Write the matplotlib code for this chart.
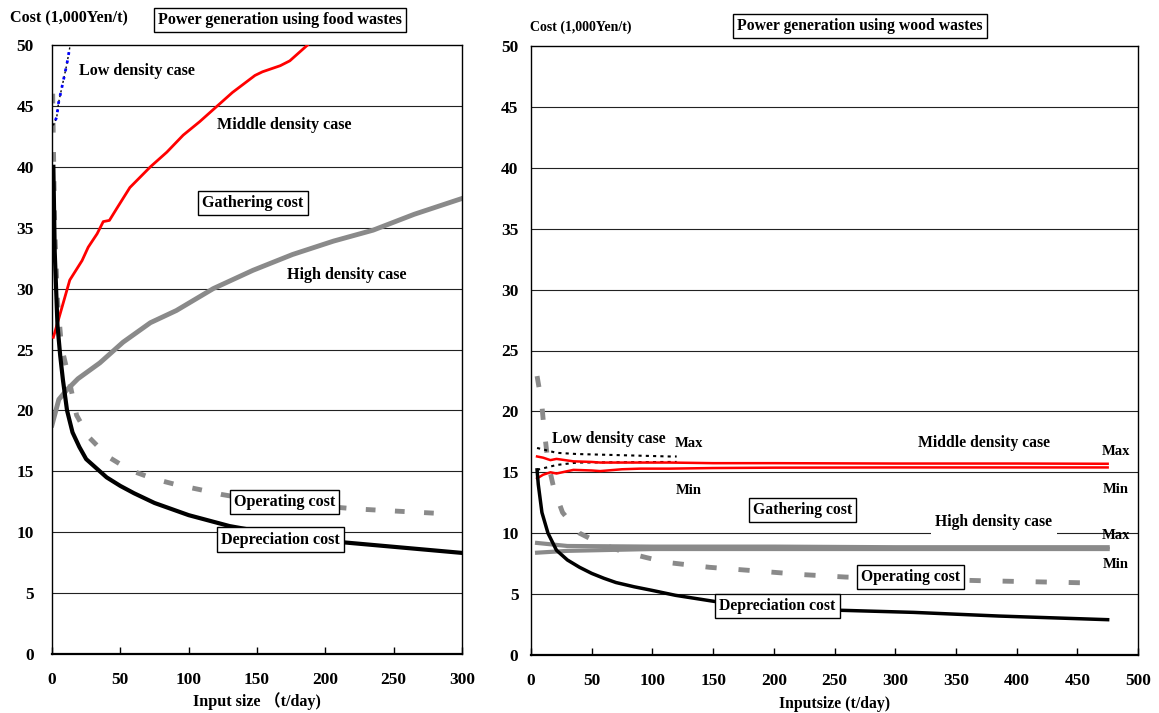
# Cost curves for power generation from food wastes and wood wastes
import numpy as np
import matplotlib.pyplot as plt

plt.rcParams['font.family'] = ['Liberation Serif', 'Noto Sans CJK JP', 'DejaVu Sans']
plt.rcParams['font.weight'] = 'bold'

# ---- food wastes (left) ----
food_dep_x = [1, 2, 4, 6, 8, 11, 15, 20, 25, 30, 35, 40, 50, 60, 75, 100, 130, 160, 200, 250, 300]
food_dep_y = [40, 33, 27, 24.5, 22.5, 20, 18.2, 17, 16, 15.5, 15, 14.5, 13.8, 13.2, 12.4, 11.4, 10.5, 9.9, 9.3, 8.8, 8.3]

food_op_x = [0.5, 1, 2, 4, 7, 11, 18, 27, 41, 57, 74, 91, 108, 124, 150, 180, 224, 257, 290]
food_op_y = [46, 42, 35, 29, 25.2, 23.3, 19.6, 17.8, 16.2, 15.1, 14.4, 13.9, 13.5, 13.1, 12.6, 12.3, 11.9, 11.7, 11.5]

food_low_x = [1, 3.5, 4.7, 7, 11, 13]
food_low_y = [43.4, 44.1, 45.2, 46.4, 48.5, 49.8]

food_mid_x = [1, 4.6, 13, 22, 26.5, 33, 37.5, 42, 47.5, 57, 72, 84, 96, 108, 118, 132, 148.5, 154, 167, 174, 181, 187]
food_mid_y = [26, 27.4, 30.7, 32.3, 33.4, 34.5, 35.5, 35.6, 36.6, 38.3, 40, 41.2, 42.6, 43.7, 44.7, 46.1, 47.5, 47.8, 48.3, 48.7, 49.4, 50]

food_high_x = [0, 5, 11, 19, 35, 52, 72, 91, 118, 147, 176, 206, 235, 265, 300]
food_high_y = [18.8, 20.9, 21.7, 22.6, 23.9, 25.6, 27.2, 28.2, 30, 31.5, 32.8, 33.9, 34.8, 36.1, 37.4]

# ---- wood wastes (right) ----
wood_dep_x = [5, 6, 9, 14, 21, 30, 40, 50, 60, 70, 85, 100, 119, 151, 200, 245, 315, 385, 475]
wood_dep_y = [15.2, 14, 11.7, 10, 8.6, 7.8, 7.2, 6.7, 6.3, 5.95, 5.6, 5.3, 4.9, 4.4, 4.0, 3.7, 3.5, 3.2, 2.9]

wood_op_x = [5, 8.8, 10.5, 14, 19, 26, 40, 56, 75, 95, 112, 147, 186, 224, 259, 371, 420, 468]
wood_op_y = [22.9, 20.7, 18.8, 15.8, 13.6, 11.7, 10, 9.2, 8.5, 8.0, 7.6, 7.2, 6.9, 6.6, 6.4, 6.1, 6.0, 5.9]

wood_mid_x = [5, 10, 16, 21, 35, 50, 57, 75, 90, 114, 150, 200, 300, 400, 475]
wood_mid_max = [16.3, 16.2, 16.0, 16.1, 15.9, 15.85, 15.8, 15.8, 15.8, 15.8, 15.75, 15.75, 15.72, 15.72, 15.7]
wood_mid_min = [14.5, 14.8, 15.0, 14.9, 15.2, 15.15, 15.1, 15.25, 15.3, 15.3, 15.35, 15.38, 15.4, 15.4, 15.4]

wood_low_x = [5, 21, 38, 114, 120]
wood_low_max = [17.0, 16.6, 16.5, 16.3, 16.3]
wood_low_min = [15.2, 15.6, 15.8, 15.85, 15.85]

wood_high_x = [5, 30, 100, 200, 300, 400, 475]
wood_high_max = [9.2, 8.95, 8.9, 8.9, 8.85, 8.85, 8.85]
wood_high_min = [8.4, 8.55, 8.7, 8.7, 8.7, 8.7, 8.7]

W, H = 1159, 713
fig = plt.figure(figsize=(W / 100, H / 100), dpi=100)

def px_axes(l, r, t, b):
    return fig.add_axes([l / W, 1 - b / H, (r - l) / W, (b - t) / H])

def style(ax, xmax, ypad):
    ax.set_ylim(0, 50)
    ax.set_xlim(0, xmax)
    ax.set_yticks(range(0, 51, 5))
    ax.set_xticks(range(0, xmax + 1, 50))
    for y in range(5, 50, 5):
        ax.axhline(y, color='#222222', lw=0.8, zorder=0)
    ax.tick_params(axis='x', direction='in', length=5, width=1, pad=13, labelsize=12.5)
    ax.tick_params(axis='y', length=0, pad=ypad, labelsize=12.5)
    for s in ax.spines.values():
        s.set_linewidth(1.0)
    ax.spines['bottom'].set_linewidth(1.6)
    for lab in ax.get_xticklabels() + ax.get_yticklabels():
        lab.set_fontweight('bold')

box = dict(boxstyle='square,pad=0.25', fc='white', ec='black', lw=1)
fl = 11.6

# left panel
ax1 = px_axes(52, 462, 45, 654)
style(ax1, 300, 13)
ax1.plot(food_high_x, food_high_y, color='#8a8a8a', lw=3.5, zorder=2)
ax1.plot(food_mid_x, food_mid_y, color='red', lw=2, zorder=3)
ax1.plot(food_low_x, food_low_y, color='black', lw=1, ls=(0, (1.5, 2)), zorder=3)
ax1.plot(food_low_x, food_low_y, color='blue', lw=2, ls=(1, (1, 2)), zorder=3)
ax1.plot(food_op_x, food_op_y, color='#8a8a8a', lw=3.5, dashes=(2, 4), zorder=2)
ax1.plot(food_dep_x, food_dep_y, color='black', lw=3, zorder=4)

ax1.text(19.5, 47.9, 'Low density case', fontsize=fl, fontweight='bold', va='center')
ax1.text(121, 43.4, 'Middle density case', fontsize=fl, fontweight='bold', va='center')
ax1.text(147, 37.0, 'Gathering cost', fontsize=fl, fontweight='bold', va='center', ha='center', bbox=box, zorder=5)
ax1.text(172, 31.1, 'High density case', fontsize=fl, fontweight='bold', va='center')
ax1.text(170, 12.5, 'Operating cost', fontsize=fl, fontweight='bold', va='center', ha='center', bbox=box, zorder=5)
ax1.text(167, 9.4, 'Depreciation cost', fontsize=fl, fontweight='bold', va='center', ha='center', bbox=box, zorder=5)
ax1.set_xlabel('Input size （t/day)', fontsize=fl, fontweight='bold', labelpad=3)

fig.text(10 / W, 1 - 18 / H, 'Cost (1,000Yen/t)', fontsize=fl, fontweight='bold', va='center')
fig.text(280 / W, 1 - 20 / H, 'Power generation using food wastes', fontsize=fl, fontweight='bold',
         va='center', ha='center', bbox=box)

# right panel
ax2 = px_axes(531, 1138, 46, 655)
style(ax2, 500, 9)
ax2.plot(wood_high_x, wood_high_max, color='#8a8a8a', lw=3, zorder=2)
ax2.plot(wood_high_x, wood_high_min, color='#8a8a8a', lw=3, zorder=2)
ax2.plot(wood_low_x, wood_low_max, color='black', lw=1.5, ls=(0, (1.5, 2)), zorder=3)
ax2.plot(wood_low_x, wood_low_min, color='black', lw=1.5, ls=(0, (1.5, 2)), zorder=3)
ax2.plot(wood_mid_x, wood_mid_max, color='red', lw=1.8, zorder=3)
ax2.plot(wood_mid_x, wood_mid_min, color='red', lw=1.8, zorder=3)
ax2.plot(wood_op_x, wood_op_y, color='#8a8a8a', lw=3.5, dashes=(2.3, 4.5), zorder=2)
ax2.plot(wood_dep_x, wood_dep_y, color='black', lw=2.5, zorder=4)

fs = 11.3
fm = 10.5
ax2.text(17, 17.7, 'Low density case', fontsize=fs, fontweight='bold', va='center')
ax2.text(118, 17.4, 'Max', fontsize=fm, fontweight='bold', va='center')
ax2.text(119, 13.5, 'Min', fontsize=fm, fontweight='bold', va='center')
ax2.text(319, 17.4, 'Middle density case', fontsize=fs, fontweight='bold', va='center')
ax2.text(470, 16.7, 'Max', fontsize=fm, fontweight='bold', va='center')
ax2.text(471, 13.6, 'Min', fontsize=fm, fontweight='bold', va='center')
ax2.text(224, 11.9, 'Gathering cost', fontsize=fs, fontweight='bold', va='center', ha='center', bbox=box, zorder=5)
ax2.text(333, 10.9, 'High density case', fontsize=fs, fontweight='bold', va='center',
         bbox=dict(boxstyle='square,pad=0.3', fc='white', ec='none'), zorder=5)
ax2.text(470, 9.85, 'Max', fontsize=fm, fontweight='bold', va='center')
ax2.text(471, 7.4, 'Min', fontsize=fm, fontweight='bold', va='center')
ax2.text(313, 6.4, 'Operating cost', fontsize=fs, fontweight='bold', va='center', ha='center', bbox=box, zorder=5)
ax2.text(203, 4.0, 'Depreciation cost', fontsize=fs, fontweight='bold', va='center', ha='center', bbox=box, zorder=5)
ax2.set_xlabel('Inputsize (t/day)', fontsize=fs, fontweight='bold', labelpad=5)

fig.text(530 / W, 1 - 27 / H, 'Cost (1,000Yen/t)', fontsize=10, fontweight='bold', va='center')
fig.text(860 / W, 1 - 26 / H, 'Power generation using wood wastes', fontsize=fs, fontweight='bold',
         va='center', ha='center', bbox=box)

fig.savefig('out.png', dpi=100)
